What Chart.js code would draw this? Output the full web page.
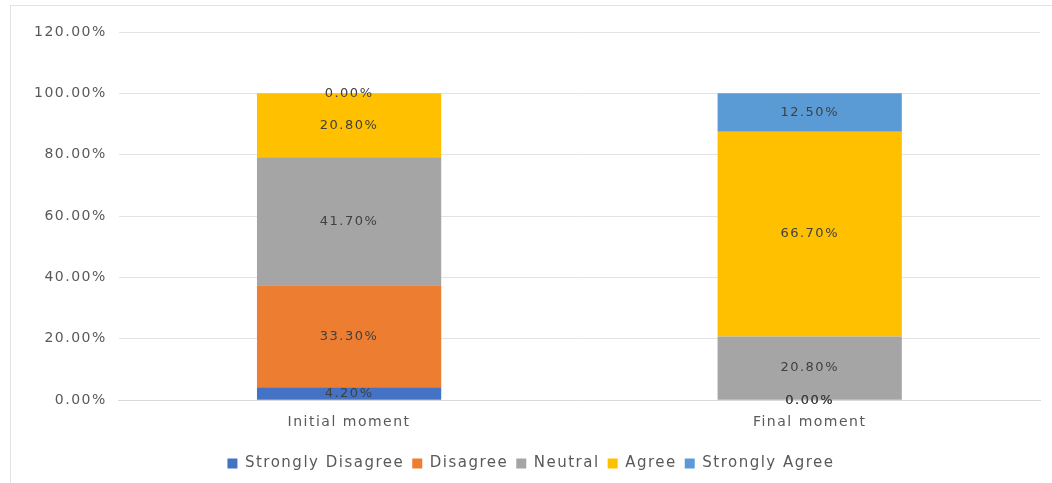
<!DOCTYPE html>
<html>
<head>
<meta charset="utf-8">
<script src="https://cdn.jsdelivr.net/npm/chart.js@4/dist/chart.umd.min.js"></script>
<style>
html,body{margin:0;padding:0;background:#fff;}
#wrap{position:absolute;left:0;top:0;width:1052px;height:483px;}
#frame{position:absolute;left:10px;top:5px;width:1060px;height:500px;border:1px solid #e3e3e3;box-sizing:border-box;}
</style>
</head>
<body>
<div id="frame"></div>
<div id="wrap"><canvas id="c" width="1052" height="483"></canvas></div>
<script>
const categories = ["Initial moment", "Final moment"];
const seriesNames = ["Strongly Disagree", "Disagree", "Neutral", "Agree", "Strongly Agree"];
const stronglyDisagree = [4.20, 0.00];
const disagree = [33.30, 0.00];
const neutral = [41.70, 20.80];
const agree = [20.80, 66.70];
const stronglyAgree = [0.00, 12.50];
const colors = ["#4472C4", "#ED7D31", "#A5A5A5", "#FFC000", "#5B9BD5"];
const yTicks = [0, 20, 40, 60, 80, 100, 120];

const seriesValues = [stronglyDisagree, disagree, neutral, agree, stronglyAgree];
const FONT = "'DejaVu Sans', sans-serif";
const SPACING = "1.5px";

const spacingPlugin = {
  id: 'spacing',
  beforeUpdate(chart) { chart.ctx.letterSpacing = SPACING; },
  beforeLayout(chart) { chart.ctx.letterSpacing = SPACING; },
  beforeDraw(chart) { chart.ctx.letterSpacing = SPACING; }
};

const labelPlugin = {
  id: 'segLabels',
  afterDatasetsDraw(chart) {
    const ctx = chart.ctx;
    ctx.save();
    ctx.letterSpacing = SPACING;
    ctx.font = "13px " + FONT;
    ctx.fillStyle = "#404040";
    ctx.textAlign = "center";
    ctx.textBaseline = "middle";
    chart.data.datasets.forEach((ds, i) => {
      const meta = chart.getDatasetMeta(i);
      meta.data.forEach((bar, j) => {
        const v = ds.data[j];
        const p = bar.getProps(['x', 'y', 'base'], true);
        const y = (p.y + p.base) / 2;
        ctx.fillText(v.toFixed(2) + "%", p.x, y);
      });
    });
    ctx.restore();
  }
};

new Chart(document.getElementById('c'), {
  type: 'bar',
  data: {
    labels: categories,
    datasets: seriesNames.map((n, i) => ({
      label: n,
      data: seriesValues[i],
      backgroundColor: colors[i],
      borderWidth: 0,
      categoryPercentage: 0.4,
      barPercentage: 1.0
    }))
  },
  options: {
    responsive: false,
    animation: false,
    devicePixelRatio: 1,
    layout: { padding: { left: 22, right: 12, top: 32, bottom: 2 } },
    plugins: {
      tooltip: { enabled: false },
      legend: {
        position: 'bottom',
        labels: {
          boxWidth: 10, boxHeight: 10, padding: 8,
          color: "#595959",
          font: { family: FONT, size: 15 }
        }
      }
    },
    scales: {
      x: {
        stacked: true,
        grid: { display: false },
        border: { display: true, color: "#d9d9d9" },
        ticks: { color: "#595959", font: { family: FONT, size: 14 }, padding: 6 },
        afterFit(axis) { axis.height += 11; }
      },
      y: {
        stacked: true,
        min: 0, max: 120,
        afterBuildTicks(axis) { axis.ticks = yTicks.map(v => ({ value: v })); },
        grid: { color: "#e3e3e3", drawTicks: false },
        border: { display: false },
        ticks: {
          color: "#595959",
          font: { family: FONT, size: 14 },
          padding: 12,
          callback: v => Number(v).toFixed(2) + "%"
        }
      }
    }
  },
  plugins: [spacingPlugin, labelPlugin]
});
</script>
</body>
</html>
